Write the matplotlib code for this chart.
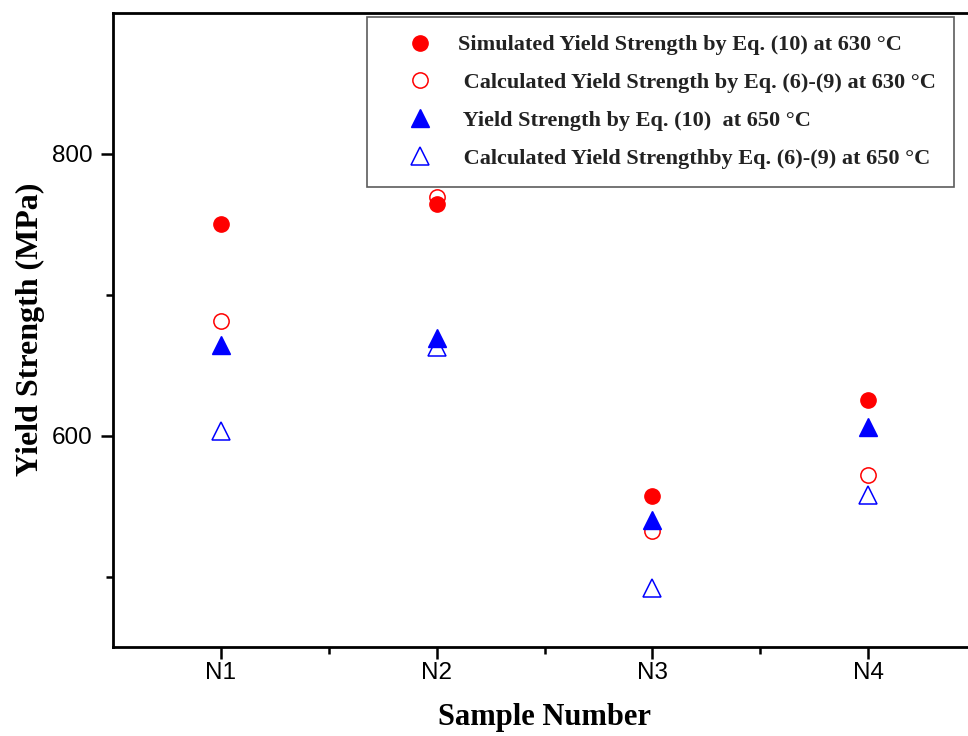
import matplotlib.pyplot as plt

samples = ["N1", "N2", "N3", "N4"]
sim_630 = [750, 764, 557, 625]
calc_630 = [681, 769, 532, 572]
sim_650 = [664, 669, 540, 606]
calc_650 = [603, 663, 492, 558]

labels = [
    "Simulated Yield Strength by Eq. (10) at 630 \u00b0C",
    " Calculated Yield Strength by Eq. (6)-(9) at 630 \u00b0C",
    " Yield Strength by Eq. (10)  at 650 \u00b0C",
    " Calculated Yield Strengthby Eq. (6)-(9) at 650 \u00b0C",
]

W, H = 968, 736
fig = plt.figure(figsize=(W / 100, H / 100), dpi=100)
# axes right edge runs past the figure, as in the reference crop
ax = fig.add_axes([113 / W, 1 - 647 / H, (976 - 113) / W, (647 - 12.5) / H])

x = list(range(1, len(samples) + 1))
ax.plot(x, sim_630, "o", color="red", ms=11, ls="none", label=labels[0])
ax.plot(x, calc_630, "o", mfc="none", mec="red", mew=1.1, ms=11, ls="none", label=labels[1])
ax.plot(x, sim_650, "^", color="blue", ms=13, ls="none", label=labels[2])
ax.plot(x, calc_650, "^", mfc="none", mec="blue", mew=1.1, ms=13.5, ls="none", label=labels[3])

ax.set_xlim(0.5, 4.5)
ax.set_ylim(450, 900)
ax.set_xticks(x)
ax.set_xticklabels(samples)
ax.set_xticks([1.5, 2.5, 3.5], minor=True)
ax.set_yticks([600, 800])
ax.set_yticks([500, 700], minor=True)

for s in ax.spines.values():
    s.set_linewidth(2)
ax.tick_params(which="major", direction="out", length=8.5, width=1.8,
               labelsize=17.5, pad=6)
ax.tick_params(axis="x", which="major", pad=2)
ax.tick_params(which="minor", direction="out", length=5, width=1.8)
for t in ax.get_xticklabels() + ax.get_yticklabels():
    t.set_fontfamily("Liberation Sans")

ax.set_ylabel("Yield Strength (MPa)", fontsize=23, fontweight="bold",
              fontfamily="Liberation Serif", labelpad=5)
ax.set_xlabel("Sample Number", fontsize=22, fontweight="bold",
              fontfamily="Liberation Serif", labelpad=14)

leg = ax.legend(loc="upper left", bbox_to_anchor=(367 / W, 1 - 17 / H),
                bbox_transform=fig.transFigure, frameon=True, fancybox=False,
                prop={"family": "Liberation Serif", "weight": "bold", "size": 16},
                handletextpad=0.1, labelspacing=0.78, borderpad=0.8,
                handlelength=3.2, borderaxespad=0)
leg.get_frame().set_edgecolor("#333333")
leg.get_frame().set_linewidth(1.2)
for t in leg.get_texts():
    t.set_color("#222222")

fig.savefig("out.png", dpi=100)
